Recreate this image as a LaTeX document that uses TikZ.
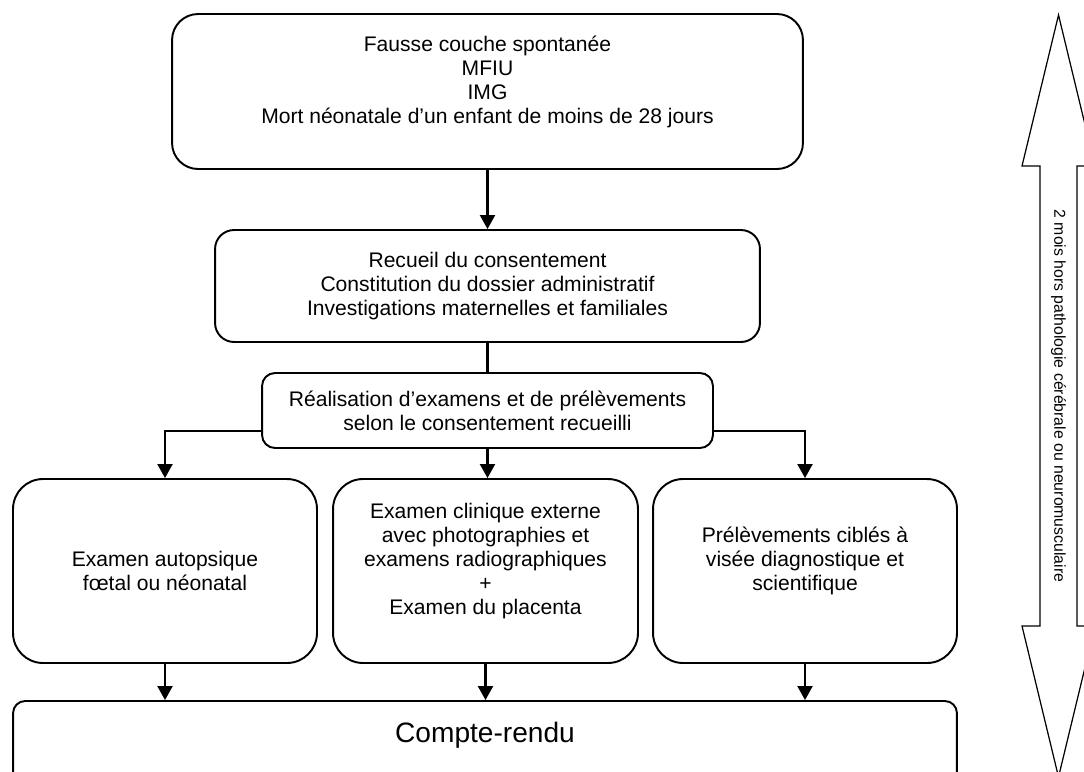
\documentclass[tikz,border=0pt]{standalone}
\usepackage{fontspec}
\setmainfont{Liberation Sans}
\usetikzlibrary{arrows.meta}

\tikzset{
  box/.style={draw, line width=1.1pt, align=center, inner sep=2pt,
    font=\fontsize{12}{13.7}\selectfont},
  conn/.style={line width=1.2pt},
  arr/.style={conn, -{Triangle[length=0.28cm,width=0.3cm]}},
}

\begin{document}
\begin{tikzpicture}[x=0.02cm, y=-0.02cm]
  \useasboundingbox (0,0) rectangle (1084,771);
  \clip (0,0) rectangle (1084,771);

  % main column
  \node[box, rounded corners=0.52cm, minimum width=12.62cm, minimum height=3.1cm]
    (cases) at (487.5,91.5)
    {Fausse couche spontanée\\ MFIU\\ IMG\\ Mort néonatale d’un enfant de moins de 28 jours\\ \mbox{}};
  \node[box, rounded corners=0.38cm, minimum width=10.9cm, minimum height=2.24cm]
    (consent) at (487.5,286)
    {Recueil du consentement\\ Constitution du dossier administratif\\ Investigations maternelles et familiales};
  \node[box, rounded corners=0.26cm, minimum width=9.02cm, minimum height=1.5cm]
    (exams) at (487.5,410.5)
    {Réalisation d’examens et de prélèvements\\ selon le consentement recueilli};

  % three branches
  \node[box, rounded corners=0.6cm, minimum width=6.08cm, minimum height=3.68cm]
    (autopsy) at (165,571)
    {Examen autopsique\\ fœtal ou néonatal};
  \node[box, rounded corners=0.6cm, minimum width=6.1cm, minimum height=3.68cm]
    (clinic) at (485.5,571)
    {Examen clinique externe\\ avec photographies et\\ examens radiographiques\\ +\\ Examen du placenta\\ \mbox{}};
  \node[box, rounded corners=0.6cm, minimum width=6.08cm, minimum height=3.68cm]
    (samples) at (805,571)
    {Prélèvements ciblés à\\ visée diagnostique et\\ scientifique\\ \mbox{}};

  % report
  \node[box, rounded corners=0.24cm, minimum width=18.88cm, minimum height=1.88cm,
    font=\fontsize{16}{18.4}\selectfont]
    (report) at (485,748) {Compte-rendu\\ \mbox{}};

  % connectors
  \draw[arr] (cases.south) -- (consent.north);
  \draw[conn] (consent.south) -- (exams.north);
  \draw[arr] ([yshift=-0.41cm]exams.west) -| (autopsy.north);
  \draw[arr] (exams.south) -- (exams.south |- clinic.north);
  \draw[arr] ([yshift=-0.41cm]exams.east) -| (samples.north);
  \draw[arr] (autopsy.south) -- (autopsy.south |- report.north);
  \draw[arr] (clinic.south) -- (clinic.south |- report.north);
  \draw[arr] (samples.south) -- (samples.south |- report.north);

  % duration arrow
  \draw[line width=0.7pt] (1058.5,15) -- (1095,166) -- (1077,166) -- (1077,626)
    -- (1095,626) -- (1058.5,777) -- (1022,626) -- (1040,626) -- (1040,166)
    -- (1022,166) -- cycle;
  \node[rotate=-90, font=\fontsize{9}{11}\selectfont] (delay) at (1058.5,396)
    {2 mois hors pathologie cérébrale ou neuromusculaire};
\end{tikzpicture}
\end{document}
